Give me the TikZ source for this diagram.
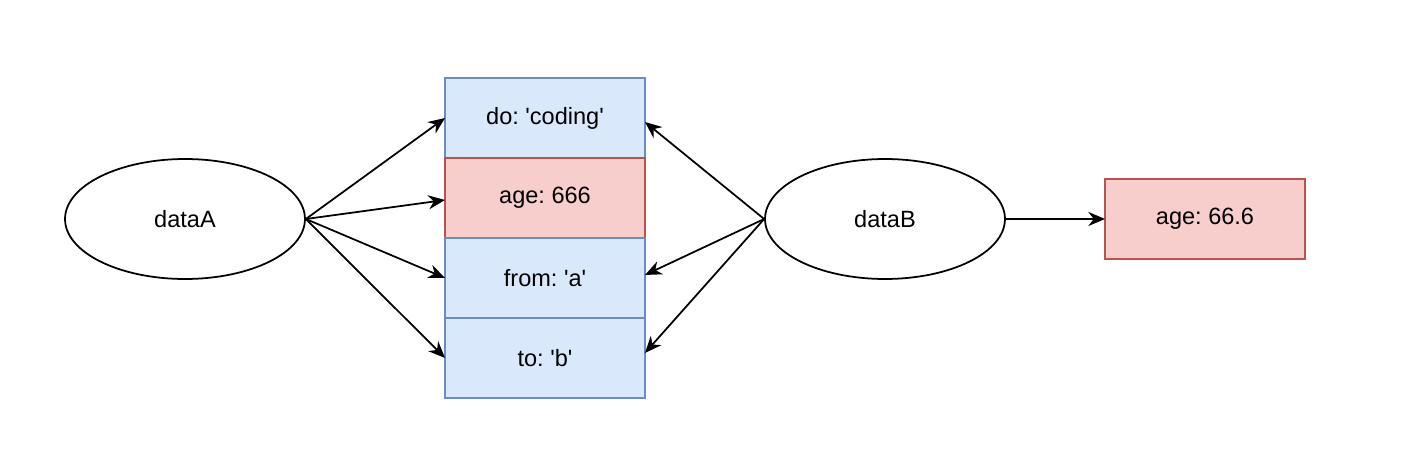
\documentclass[tikz,border=0pt]{standalone}
\usepackage{fontspec}
\setmainfont{Liberation Sans}
\usepackage{tikz}
\usetikzlibrary{shapes.geometric, positioning, arrows.meta}
\definecolor{cellbg}{HTML}{DAE8FC}
\definecolor{cellframe}{HTML}{6C8EBF}
\definecolor{hotbg}{HTML}{F8CECC}
\definecolor{hotframe}{HTML}{B85450}
\newcommand{\sq}{\textquotesingle}
\frenchspacing

\begin{document}
\begin{tikzpicture}[
        x=0.02cm, y=-0.02cm,
        node distance=0pt,
        every node/.style={font=\fontsize{13.4}{16}\selectfont},
        obj/.style={draw, ellipse, minimum width=4.8cm, minimum height=2.4cm, line width=1pt},
        cell/.style={draw=cellframe, fill=cellbg, rectangle, minimum width=4cm, minimum height=1.6cm, outer sep=0pt, line width=1pt},
        hot/.style={cell, draw=hotframe, fill=hotbg},
        arr/.style={-{Stealth[length=9.5pt, width=8pt]}, line width=1pt}
    ]
    \useasboundingbox (0,0) rectangle (1428,470);

    \node[obj] (dataA) at (185,219) {dataA};
    \node[obj] (dataB) at (885,219) {dataB};

    \node[cell] (do) at (545,118) {do: \sq coding\sq};
    \node[hot] (age) [below=of do] {age: 666};
    \node[cell] (from) [below=of age] {from: \sq a\sq};
    \node[cell] (to) [below=of from] {to: \sq b\sq};

    \node[hot] (ageB) at (1205,219) {age: 66.6};

    \draw[arr] (dataA.east) -- (do.west);
    \draw[arr] (dataA.east) -- ([yshift=-0.04cm]age.west);
    \draw[arr] (dataA.east) -- (from.west);
    \draw[arr] (dataA.east) -- (to.west);

    \draw[arr] (dataB.west) -- ([yshift=-0.08cm]do.east);
    \draw[arr] (dataB.west) -- ([yshift=0.06cm]from.east);
    \draw[arr] (dataB.west) -- ([yshift=0.1cm]to.east);

    \draw[arr] (dataB.east) -- (ageB.west);

\end{tikzpicture}
\end{document}
